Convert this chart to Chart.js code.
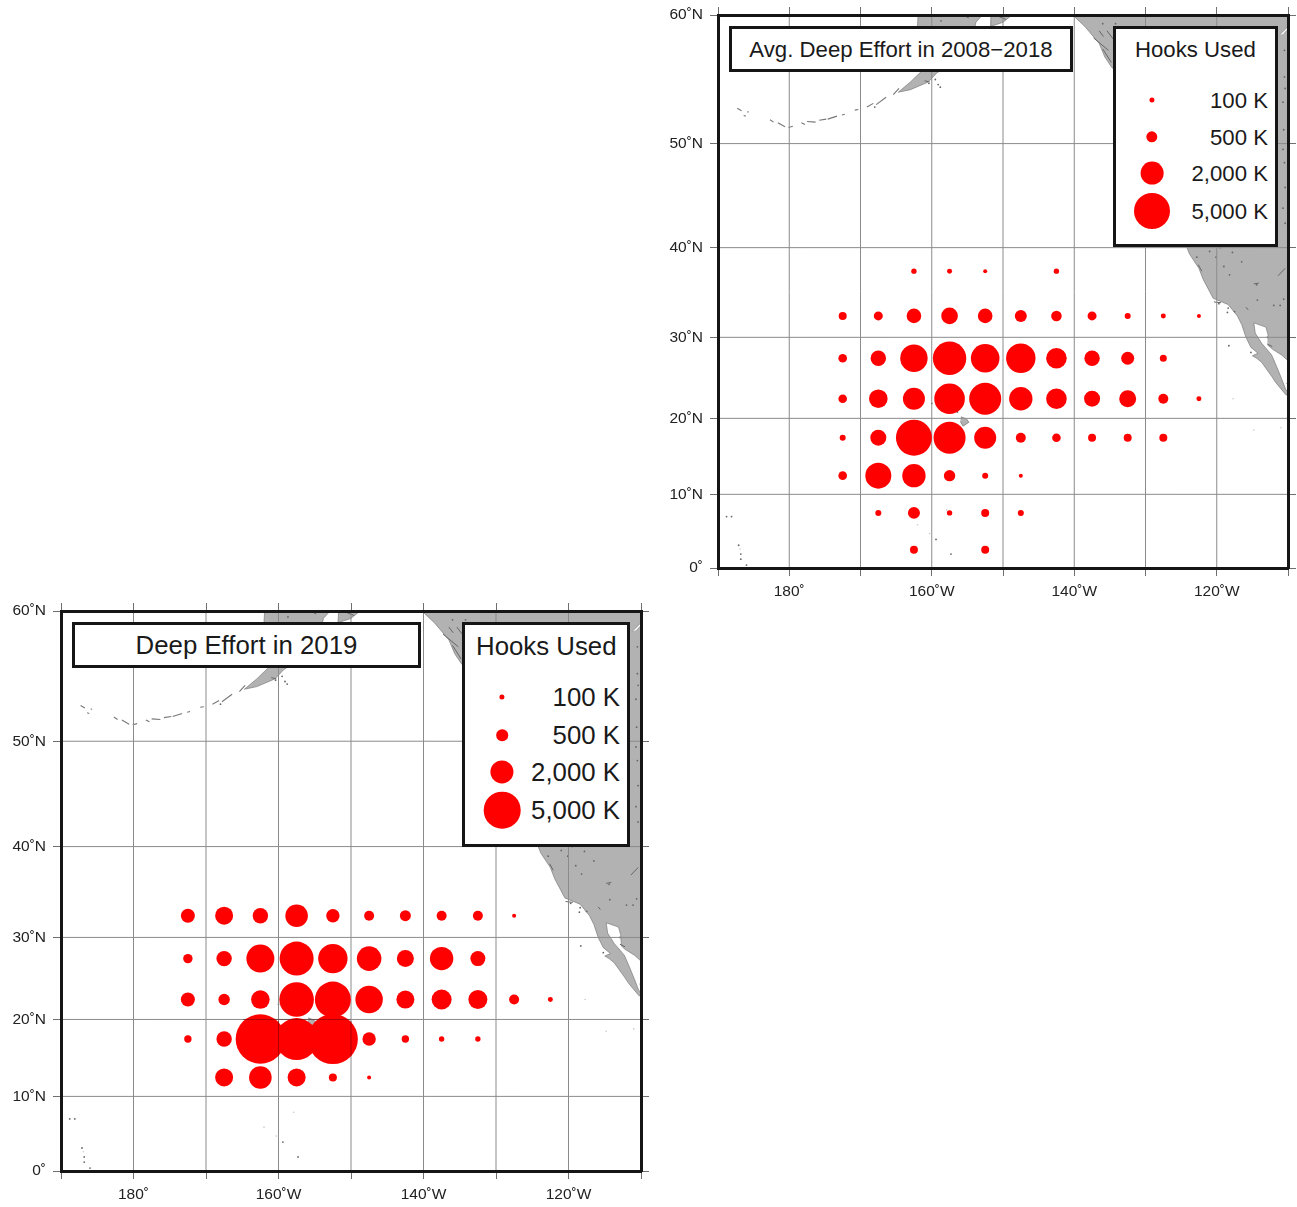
<!DOCTYPE html>
<html>
<head>
<meta charset="utf-8">
<script src="https://cdn.jsdelivr.net/npm/chart.js@4/dist/chart.umd.js"></script>
<style>
html,body{margin:0;padding:0;background:#fff;width:1297px;height:1207px;overflow:hidden}
body{position:relative;font-family:"Liberation Sans",Arial,sans-serif;color:#1a1a1a}
canvas{position:absolute;display:block}
.box{position:absolute;box-sizing:border-box;border:3px solid #151515;background:#fff}
.txt{position:absolute;white-space:nowrap;line-height:1;transform:translateY(-50%)}
.dot{position:absolute;background:#f00;border-radius:50%;transform:translate(-50%,-50%)}
</style>
</head>
<body>
<canvas id="panelAvg" width="647" height="600" style="left:650px;top:0"></canvas>
<canvas id="panel2019" width="650" height="611" style="left:0;top:596px"></canvas>
<script>
// ---- Data ----
const lonCentres = [-172.5,-167.5,-162.5,-157.5,-152.5,-147.5,-142.5,-137.5,-132.5,-127.5,-122.5];
const latCentres = [37.5,32.5,27.5,22.5,17.5,12.5,7.5,2.5];
const _ = null;
// thousands of hooks, one row per latCentres entry
const hooksAvg = [
  [_,_,112,96,62,_,112,_,_,_,_],
  [247,312,822,1063,822,555,430,312,139,96,62],
  [285,915,2896,4303,3155,3334,1637,915,652,189,_],
  [285,1335,1867,3612,3950,2112,1637,988,1115,386,96],
  [139,988,5000,3950,1867,386,285,247,247,247,_],
  [285,2608,2112,501,139,62,_,_,_,_,_],
  [_,139,555,112,247,139,_,_,_,_,_],
  [_,_,247,_,247,_,_,_,_,_,_]
];
const hooks2019 = [
  [_,_,_,_,_,_,_,_,_,_,_],
  [732,1209,885,1906,670,373,452,373,373,60,_],
  [330,885,2926,4315,3226,2259,1079,2044,840,_,_],
  [732,485,1291,4468,4837,2802,1209,1493,1347,373,93],
  [204,885,9108,6584,9331,670,204,109,109,_,_],
  [_,1209,1906,1209,239,60,_,_,_,_,_],
  [_,_,_,_,_,_,_,_,_,_,_],
  [_,_,_,_,_,_,_,_,_,_,_]
];
const legendValues = [100,500,2000,5000];
const legendLabels = ['100 K','500 K','2,000 K','5,000 K'];
const lonGrid = [-180,-170,-160,-150,-140,-130,-120];
const latGrid = [10,20,30,40,50];
const lonTickLabels = {'-180':'180˚','-160':'160˚W','-140':'140˚W','-120':'120˚W'};
// grid segments that show through the largest 2019 circles
const gridShowThrough2019 = [[[-160,15.3],[-160,19.8]],[[-150,15.3],[-150,19.8]],[[-164.9,20],[-150.1,20]]];

// ---- Land as [lon,lat] ----
const landNorthAmerica = [[-100,72],[-100,20],[-105,22],[-108,25],[-110,27.2],[-110.9,27.9],[-112.2,28.6],[-112.7,29],[-112.8,30.3],[-113.1,31.2],[-114.8,31.7],
  [-114.6,30.5],[-113.7,29.3],[-112.3,27.9],[-111.6,26.5],[-110.9,25],[-110.3,23.6],[-109.5,23.2],[-109.9,22.9],[-110.3,23],[-111.7,24.5],[-112.3,25.3],
  [-113.7,27],[-114.4,27.5],[-115,27.8],[-114.2,28.1],[-115.2,28.8],[-115.9,30],[-116.5,31.5],[-117.1,32.5],[-118.4,33.8],[-120.5,34.5],[-121.9,36.6],[-122.5,37.8],[-123.8,39.3],
  [-124.4,40.4],[-124.4,43],[-124,46],[-124.7,48.4],[-125.5,50],[-128,52],[-130,54],[-131,55],[-134.7,56.2],[-135.7,57],[-136.5,58],[-138.5,59.2],[-140,59.9],[-143,60.1],[-148.5,60.1],[-149,60.2],
  [-149,59.9],[-150,59.5],[-151.8,59.2],[-151.7,60],[-151.3,60.6],[-153,60.6],[-152.7,60.1],[-153.8,59.5],[-154.5,58],[-156,57],[-159.3,55.8],[-160.5,55.1],[-163,54.5],[-164.7,54.3],
  [-163,55.1],[-161.5,55.9],[-159.5,57],[-157.8,58],[-157,58.7],[-158,58.6],[-160,58.8],[-162,59.2],[-161.85,60.6],[-161.85,72]];
const landKodiak = [[-154.7,57.3],[-153,57.9],[-152.2,57.6],[-153.5,56.8]];
const landHawaii = [[-155.9,20.2],[-155.1,19.9],[-154.8,19.5],[-155.6,19],[-156,19.6]];
const lakeAthabasca = [[-111.2,58.6],[-110.2,59.1],[-109.6,59.2],[-110.6,58.7]];
const aleutianChains = [
  [[-187.3,53.0],[-186.7,52.8]],[[-186.4,52.4],[-186.1,52.35]],[[-185.9,52.7],[-185.7,52.7]],
  [[-182.7,52.05],[-182.2,51.85]],[[-181.6,51.8],[-180.6,51.45]],[[-180.1,51.4],[-179.5,51.5]],
  [[-178.3,51.8],[-177.8,51.65]],[[-177.5,51.9],[-176.3,51.85]],[[-175.8,52.0],[-174.8,52.1]],[[-174.6,52.1],[-173.3,52.35]],
  [[-172.6,52.45],[-172.2,52.5]],[[-170.8,52.85],[-170.3,52.9]],[[-169.1,53.1],[-168.2,53.4]],[[-167.8,53.3],[-166.4,53.9]],
  [[-165.4,54.1],[-164.6,54.6]]
];
const darkCoastBits = [
  [[-137.3,58.4],[-135.2,57.5]],[[-136,57.6],[-134.8,56.6]],[[-135.4,58.9],[-134.2,58.1]],[[-134.4,57.6],[-133.4,56.5]],[[-136.5,58.9],[-135.9,58.5]],
  [[-122.6,38.2],[-122.1,37.5]],[[-120.4,34.1],[-119.4,34.0]],[[-111.4,37.0],[-110.4,37.8]],[[-114.8,36.1],[-114.1,36.2]],[[-115.9,33.5],[-115.6,33.2]],
  [[-112.9,29.2],[-112.2,28.9]],[[-110.2,24.4],[-109.9,24.2]],[[-150.6,59.9],[-149.6,59.7]],[[-156,60.1],[-154.8,59.8]],[[-152.6,60.3],[-152.1,59.9]],
  [[-146.5,60.8],[-146,60.2]],[[-161,55.2],[-160.3,55.1]]
];
const darkSpecks = [[-122.8,39],[-120.1,39],[-119,38],[-119.5,40],[-121,39.6],[-118.2,37.1],[-116.5,38.5],[-117.8,39.5],[-114.4,36],[-114.3,34.3],[-115.2,28.2],[-118.3,29],
  [-118.4,33.4],[-117.5,33],[-118.5,32.9],[-119.7,33.9],[-112,33.7],[-111.1,33.7],[-110.6,34.4],[-112.9,30],[-160,21.9],[-158,21.5],[-156.4,20.8],
  [-110.5,57.5],[-110.5,55.5],[-110.4,54.6],[-110.7,53.5],[-110.6,51.2],[-110.7,49.5],[-110.5,48.3],[-110.4,46],[-110.7,44],[-110.4,42.5],
  [-134.2,59.4],[-136,59.4],[-158.7,59.6],[-157,57.2],[-159.5,55.3],[-159.1,54.9],[-158.8,54.7],[-160.4,55],[-146,60.5],[-154,60.3],[-132,60.2],[-128,60.5],
  [-188.8,7],[-188.1,7],[-187.1,3.1],[-186.8,1.9],[-186.8,1.2],[-186,0.4],[-159.4,3.9],[-157.3,1.9],[-168,53.1]];
const faintSpecks = [[-162,5.9],[-160.3,4.7],[-114.8,18.5],[-111,18.8],[-117.7,22.5],[-186.9,2.6],[-157.9,7.9]];

// ---- Mercator scale ----
const merc = lat => Math.log(Math.tan(Math.PI / 4 + lat * Math.PI / 360));
const invMerc = m => (2 * Math.atan(Math.exp(m)) - Math.PI / 2) * 180 / Math.PI;
class MercatorScale extends Chart.LinearScale {
  getPixelForValue(v) {
    const a = merc(this.min), b = merc(this.max);
    return this.getPixelForDecimal((merc(v) - a) / (b - a));
  }
  getValueForPixel(p) {
    const a = merc(this.min), b = merc(this.max);
    return invMerc(a + this.getDecimalForPixel(p) * (b - a));
  }
}
MercatorScale.id = 'mercator';
MercatorScale.defaults = Chart.LinearScale.defaults;
Chart.register(MercatorScale);

// fills the closed polygon of a land dataset, under its outline
const polygonFill = {
  id: 'polygonFill',
  beforeDatasetDraw(chart, args) {
    const fill = chart.data.datasets[args.index].polygonColor;
    if (!fill) return;
    const pts = args.meta.data, a = chart.chartArea, c = chart.ctx;
    c.save();
    c.beginPath(); c.rect(a.left, a.top, a.right - a.left, a.bottom - a.top); c.clip();
    c.beginPath();
    pts.forEach((p, i) => i ? c.lineTo(p.x, p.y) : c.moveTo(p.x, p.y));
    c.closePath(); c.fillStyle = fill; c.fill();
    c.restore();
  }
};
Chart.register(polygonFill);

const LAND = '#b2b2b2', COAST = '#7a7a7a', GRID = '#8b8b8b', FRAME = '#151515';
const toPts = arr => arr.map(([x, y]) => ({x, y}));
const lineDs = (pts, color, width, order, extra) => Object.assign({type:'line', data:pts, borderColor:color, borderWidth:width,
  pointRadius:0, pointHoverRadius:0, fill:false, tension:0, order}, extra || {});
const TICK_FONT = {family:'"Liberation Sans", Arial, sans-serif', size:15.5};
const zeroPad = s => { s.paddingTop = 0; s.paddingBottom = 0; s.paddingLeft = 0; s.paddingRight = 0; };

function panel(id, hooks, radiusAt5000, m, showThrough) {
  const rOf = v => radiusAt5000 * Math.sqrt(v / 5000);
  const bubbles = [];
  hooks.forEach((row, j) => row.forEach((v, i) => {
    if (v !== null) bubbles.push({x: lonCentres[i], y: latCentres[j], r: rOf(v)});
  }));
  const datasets = [];
  showThrough.forEach(c => datasets.push(lineDs(toPts(c), 'rgba(70,0,0,0.45)', 1, 0)));
  datasets.push({type:'bubble', data:bubbles, backgroundColor:'#ff0000', borderWidth:0, hoverBorderWidth:0, order:1});
  lonGrid.forEach(l => datasets.push(lineDs([{x:l,y:0},{x:l,y:60}], GRID, 1, 2)));
  latGrid.forEach(l => datasets.push(lineDs([{x:-190,y:l},{x:-110,y:l}], GRID, 1, 2)));
  datasets.push(lineDs(toPts(darkSpecks), '#666', 0, 3, {showLine:false, pointRadius:0.9, pointBackgroundColor:'#666', pointBorderWidth:0}));
  datasets.push(lineDs(toPts(faintSpecks), '#c8c8c8', 0, 3, {showLine:false, pointRadius:0.8, pointBackgroundColor:'#c8c8c8', pointBorderWidth:0}));
  aleutianChains.forEach(c => datasets.push(lineDs(toPts(c), '#777', 1.1, 3)));
  darkCoastBits.forEach(c => datasets.push(lineDs(toPts(c), '#666', 1, 3)));
  datasets.push(lineDs(toPts(lakeAthabasca), '#777', 0.6, 3, {polygonColor:'#fff'}));
  datasets.push(lineDs(toPts(landHawaii), COAST, 0.8, 4, {polygonColor:LAND}));
  datasets.push(lineDs(toPts(landKodiak), COAST, 0.6, 4, {polygonColor:LAND}));
  datasets.push(lineDs(toPts(landNorthAmerica), COAST, 0.7, 4, {polygonColor:LAND}));

  const ticksCommon = {color:'#222', font:TICK_FONT, autoSkip:false, maxRotation:0, minRotation:0};
  const gridCommon = {drawOnChartArea:false, drawTicks:true, tickLength:8, tickColor:'#6f6f6f', tickWidth:1};
  const border = {display:true, color:FRAME, width:3, z:1};
  const xBase = {type:'linear', min:-190, max:-110, grid:gridCommon, border, afterBuildTicks(s){ s.ticks = [-190,-180,-170,-160,-150,-140,-130,-120,-110].map(value => ({value})); }};
  const yBase = {type:'mercator', min:0, max:60, grid:gridCommon, border, afterBuildTicks(s){ s.ticks = [0,10,20,30,40,50,60].map(value => ({value})); }};

  return new Chart(document.getElementById(id), {
    type:'bubble',
    data:{datasets},
    plugins:[polygonFill],
    options:{
      responsive:false, animation:false, events:[],
      layout:{padding:0, autoPadding:false},
      plugins:{legend:{display:false}, tooltip:{enabled:false}, title:{display:false}},
      scales:{
        x:Object.assign({}, xBase, {position:'bottom', afterFit(s){ s.height = m.bottom; zeroPad(s); },
          ticks:Object.assign({}, ticksCommon, {padding:6, callback:v => lonTickLabels[String(v)] || ''})}),
        x2:Object.assign({}, xBase, {position:'top', afterFit(s){ s.height = m.top; zeroPad(s); }, ticks:{display:false}}),
        y:Object.assign({}, yBase, {position:'left', afterFit(s){ s.width = m.left; zeroPad(s); },
          ticks:Object.assign({}, ticksCommon, {padding:7, callback:v => v === 0 ? '0˚' : v + '˚N'})}),
        y2:Object.assign({}, yBase, {position:'right', afterFit(s){ s.width = m.right; zeroPad(s); }, ticks:{display:false}})
      }
    }
  });
}

panel('panelAvg', hooksAvg, 18, {left:68, right:9, top:15, bottom:32}, []);
panel('panel2019', hooks2019, 18.3, {left:61, right:9, top:15, bottom:36}, gridShowThrough2019);

// ---- Title and size-legend boxes ----
function addEl(cls, css, text) {
  const e = document.createElement('div');
  e.className = cls; Object.assign(e.style, css);
  if (text) e.textContent = text;
  document.body.appendChild(e);
}
function overlay(o) {
  addEl('box', {left:o.tx+'px', top:o.ty+'px', width:o.tw+'px', height:o.th+'px'});
  addEl('txt', {left:o.tx+'px', width:o.tw+'px', textAlign:'center', top:(o.ty+o.th/2+1)+'px', fontSize:o.font+'px'}, o.title);
  addEl('box', {left:o.lx+'px', top:o.ly+'px', width:o.lw+'px', height:o.lh+'px'});
  addEl('txt', {left:o.hx+'px', top:o.hy+'px', fontSize:o.font+'px'}, 'Hooks Used');
  legendValues.forEach((v, i) => {
    const d = 2 * o.r5000 * Math.sqrt(v / 5000);
    addEl('dot', {left:o.dotx+'px', top:o.rows[i]+'px', width:d+'px', height:d+'px'});
    addEl('txt', {right:(1297-o.labelRight)+'px', top:(o.rows[i]+1)+'px', fontSize:o.font+'px'}, legendLabels[i]);
  });
}
overlay({title:'Avg. Deep Effort in 2008−2018', tx:729, ty:26, tw:344, th:46, font:22.2,
  lx:1113, ly:26, lw:165, lh:221, hx:1135, hy:50, dotx:1152, rows:[100,137,173,211], labelRight:1268, r5000:18});
overlay({title:'Deep Effort in 2019', tx:72, ty:622, tw:349, th:46, font:25.8,
  lx:462, ly:622, lw:168, lh:225, hx:476, hy:647, dotx:502, rows:[697,735,772,810], labelRight:620, r5000:18.3});
</script>
</body>
</html>
